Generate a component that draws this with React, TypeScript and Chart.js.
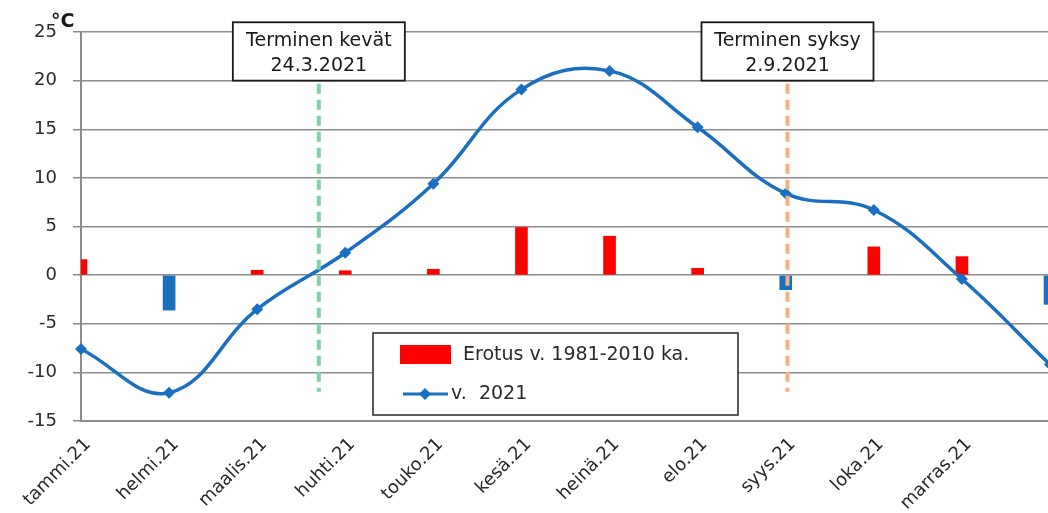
import React, { useEffect, useRef } from 'react';
import { Chart, registerables } from 'chart.js';

Chart.register(...registerables);

const categories = ['tammi.21', 'helmi.21', 'maalis.21', 'huhti.21', 'touko.21', 'kesä.21', 'heinä.21', 'elo.21', 'syys.21', 'loka.21', 'marras.21', 'joulu.21'];
const temp2021 = [-7.6, -12.1, -3.5, 2.3, 9.4, 19.1, 21.0, 15.2, 8.4, 6.7, -0.4, -9.2];
const diffFromNormal = [1.6, -3.6, 0.5, 0.45, 0.6, 4.9, 4.0, 0.7, -1.5, 2.9, 1.9, -3.0];
const seriesLabels = ['Erotus v. 1981-2010 ka.', 'v.  2021'];
const yMin = -15;
const yMax = 25;
const yStep = 5;
const unitLabel = '°C';
const seasonTitles = ['Terminen kevät', 'Terminen syksy'];
const seasonDates = ['24.3.2021', '2.9.2021'];
const seasonPositions = [2.70, 8.02]; // fractional category index
const seasonLineTop = 20;
const seasonLineBottom = -12;
const seasonBoxTop = 26;

const FONT = '"DejaVu Sans", "Open Sans", sans-serif';
const GRID = '#8c8c8c';
const TEXT = '#2a2a2a';
const LINE_BLUE = '#1a6fc0';
const BAR_RED = '#ff0000';
const BAR_BLUE = '#1b6fbf';
const SEASON_COLORS = ['#80d4a6', '#f4b183'];

export default function App() {
  const ref = useRef<HTMLCanvasElement | null>(null);

  useEffect(() => {
    const canvas = ref.current;
    if (!canvas) return;

    const overlay = {
      id: 'overlay',
      afterDatasetsDraw(chart: any) {
        const { ctx, scales } = chart;
        const x = scales.x;
        const y = scales.y;
        const posX = (p: number) => {
          const i = Math.floor(p);
          const f = p - i;
          const a = x.getPixelForValue(i);
          const b = x.getPixelForValue(i + 1);
          return a + f * (b - a);
        };
        seasonPositions.forEach((p, k) => {
          const px = posX(p);
          ctx.save();
          ctx.strokeStyle = SEASON_COLORS[k];
          ctx.lineWidth = 4;
          ctx.setLineDash([10, 6]);
          ctx.beginPath();
          ctx.moveTo(px, y.getPixelForValue(seasonLineTop) + 3);
          ctx.lineTo(px, y.getPixelForValue(seasonLineBottom));
          ctx.stroke();
          ctx.restore();

          const bw = 172;
          const top = y.getPixelForValue(seasonBoxTop);
          const bottom = y.getPixelForValue(seasonLineTop);
          ctx.save();
          ctx.fillStyle = '#ffffff';
          ctx.fillRect(px - bw / 2, top, bw, bottom - top);
          ctx.strokeStyle = '#1a1a1a';
          ctx.lineWidth = 1.8;
          ctx.strokeRect(px - bw / 2, top, bw, bottom - top);
          ctx.fillStyle = '#1a1a1a';
          ctx.font = `19px ${FONT}`;
          ctx.textAlign = 'center';
          ctx.textBaseline = 'alphabetic';
          ctx.fillText(seasonTitles[k], px, top + 24);
          ctx.fillText(seasonDates[k], px, top + 49);
          ctx.restore();
        });
      },
      afterDraw(chart: any) {
        const { ctx } = chart;
        const area = chart.chartArea;
        ctx.save();
        // unit label
        ctx.fillStyle = '#1a1a1a';
        ctx.font = `bold 19px ${FONT}`;
        ctx.textAlign = 'left';
        ctx.textBaseline = 'alphabetic';
        ctx.fillText(unitLabel, area.left - 30, area.top - 5);

        // legend box
        const lx = 373, ly = 333, lw = 365, lh = 82;
        ctx.fillStyle = '#ffffff';
        ctx.fillRect(lx, ly, lw, lh);
        ctx.strokeStyle = '#333333';
        ctx.lineWidth = 1.6;
        ctx.strokeRect(lx, ly, lw, lh);

        ctx.fillStyle = BAR_RED;
        ctx.fillRect(lx + 27, ly + 12, 51, 19);
        ctx.fillStyle = TEXT;
        ctx.font = `19px ${FONT}`;
        ctx.textBaseline = 'middle';
        ctx.fillText(chart.data.datasets[1].label, lx + 90, ly + 22);

        ctx.strokeStyle = LINE_BLUE;
        ctx.lineWidth = 3;
        ctx.beginPath();
        ctx.moveTo(lx + 30, ly + 61);
        ctx.lineTo(lx + 75, ly + 61);
        ctx.stroke();
        ctx.fillStyle = LINE_BLUE;
        ctx.beginPath();
        const cx = lx + 52, cy = ly + 61, r = 6;
        ctx.moveTo(cx, cy - r);
        ctx.lineTo(cx + r, cy);
        ctx.lineTo(cx, cy + r);
        ctx.lineTo(cx - r, cy);
        ctx.closePath();
        ctx.fill();
        ctx.fillStyle = TEXT;
        ctx.fillText(chart.data.datasets[0].label, lx + 78, ly + 61);
        ctx.restore();
      },
    };

    const chart = new Chart(canvas, {
      type: 'bar',
      data: {
        labels: categories,
        datasets: [
          {
            type: 'line',
            label: seriesLabels[1],
            data: temp2021,
            borderColor: LINE_BLUE,
            backgroundColor: LINE_BLUE,
            borderWidth: 3.5,
            tension: 0.4,
            pointStyle: 'rectRot',
            pointRadius: 6,
            pointBorderWidth: 0,
            pointBackgroundColor: LINE_BLUE,
            order: 0,
          } as any,
          {
            type: 'bar',
            label: seriesLabels[0],
            data: diffFromNormal,
            backgroundColor: (c: any) => ((c.raw ?? 0) < 0 ? BAR_BLUE : BAR_RED),
            barThickness: 12,
            borderWidth: 0,
            order: 1,
          } as any,
        ],
      },
      options: {
        responsive: false,
        animation: false,
        layout: { padding: { left: 0, top: 32, right: 12, bottom: 0 } },
        plugins: {
          legend: { display: false },
          tooltip: { enabled: false },
        },
        scales: {
          x: {
            type: 'category',
            offset: false,
            grid: { display: false, drawTicks: true, tickLength: 0 },
            border: { display: true, color: GRID, width: 2 },
            ticks: {
              autoSkip: false,
              maxRotation: 45,
              minRotation: 45,
              padding: 13,
              labelOffset: 7,
              color: TEXT,
              font: { family: FONT, size: 18 },
              callback: (_v: any, i: number) => (i === categories.length - 1 ? '' : categories[i]),
            },
            afterFit: (s: any) => { s.height = 92; s.paddingRight = 0; s.paddingLeft = 0; },
          },
          y: {
            min: yMin,
            max: yMax,
            grid: { color: GRID, lineWidth: 1.5, tickLength: 8, tickColor: GRID, drawTicks: true },
            border: { display: true, color: GRID, width: 2 },
            ticks: {
              stepSize: yStep,
              padding: 16,
              color: TEXT,
              font: { family: FONT, size: 18 },
            },
            afterFit: (s: any) => { s.width = 81; },
          },
        },
      },
      plugins: [overlay],
    });

    return () => chart.destroy();
  }, []);

  return (
    <div style={{ position: 'fixed', left: 0, top: 0, width: 1048, height: 513, overflow: 'hidden', background: '#ffffff' }}>
      <canvas ref={ref} width={1062} height={513} style={{ display: 'block' }} />
    </div>
  );
}
